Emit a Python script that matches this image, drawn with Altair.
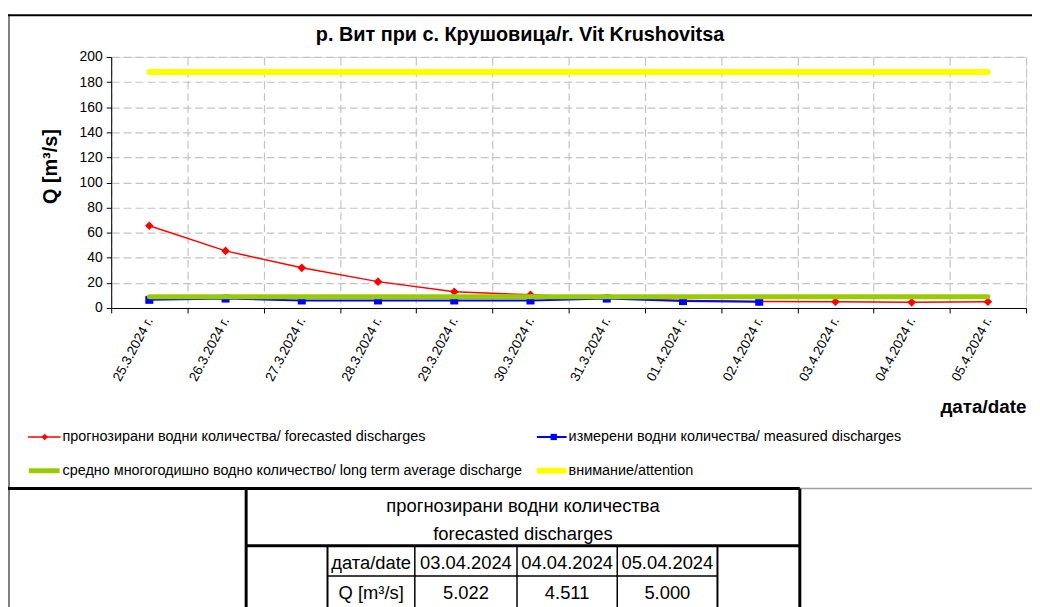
import altair as alt
import pandas as pd

# ---------------- data ----------------
dates = ["25.3.2024 г.", "26.3.2024 г.", "27.3.2024 г.", "28.3.2024 г.",
         "29.3.2024 г.", "30.3.2024 г.", "31.3.2024 г.", "01.4.2024 г.",
         "02.4.2024 г.", "03.4.2024 г.", "04.4.2024 г.", "05.4.2024 г."]
forecast = [65.5, 45.5, 32.0, 21.0, 13.0, 10.5, 8.0, 6.0, 5.2, 5.022, 4.511, 5.000]
measured_dates = dates[:9]
measured = [6.5, 7.5, 6.0, 6.0, 6.0, 6.0, 7.5, 5.5, 5.0]
long_term = [8.9, 8.9, 8.9, 8.9, 8.9, 8.9, 8.9, 8.9, 8.9, 8.9, 8.9, 8.9]
attention = [188, 188, 188, 188, 188, 188, 188, 188, 188, 188, 188, 188]
y_ticks = [0, 20, 40, 60, 80, 100, 120, 140, 160, 180, 200]

table_dates = ["03.04.2024", "04.04.2024", "05.04.2024"]
table_values = [5.022, 4.511, 5.000]

title_text = "р. Вит при с. Крушовица/r. Vit Krushovitsa"
legend_labels = [
    "прогнозирани  водни количества/ forecasted discharges",
    "измерени  водни количества/ measured discharges",
    "средно  многогодишно  водно количество/ long term average  discharge",
    "внимание/attention",
]

# ---------------- styling ----------------
ARIAL = "Liberation Sans, Arial, sans-serif"
W, H = 922, 253
RED, BLUE, GREEN, YELLOW = "#FF0000", "#0000FF", "#99CC00", "#FFFF00"
GRID = "#C4C4C4"

df_fc = pd.DataFrame({"date": dates, "value": forecast})
df_me = pd.DataFrame({"date": measured_dates, "value": measured})
df_lt = pd.DataFrame({"date": dates, "value": long_term})
df_at = pd.DataFrame({"date": dates, "value": attention})

x_axis = alt.Axis(
    title="дата/date", tickBand="extent", grid=True, gridColor=GRID,
    gridDash=[8, 4], gridWidth=1.2, domainColor="black", domainWidth=1,
    tickColor="black", tickSize=5, labelAngle=298, labelFont=ARIAL,
    labelFontSize=13.5, labelColor="black", labelPadding=5,
    titleFont=ARIAL, titleFontWeight="bold", titleFontSize=19,
    titleColor="black", titleX=922, titleY=99, titleAlign="right",
    titleBaseline="middle", titleAnchor="end",
)
y_axis = alt.Axis(
    values=y_ticks, title="Q [m³/s]", grid=True, gridColor=GRID,
    gridDash=[8, 4], gridWidth=1.2, domainColor="black", tickColor="black",
    tickSize=5, labelFont=ARIAL, labelFontSize=14, labelColor="black",
    labelPadding=4, titleFont=ARIAL, titleFontSize=20, titleFontWeight="bold",
    titleColor="black", titleX=-61, titleY=110, titleAngle=270,
    titleAlign="center", titleBaseline="middle",
)

x_enc = alt.X("date:N", scale=alt.Scale(type="band", domain=dates,
                                          paddingInner=0, paddingOuter=0),
              bandPosition=0.5, axis=x_axis)
y_enc = alt.Y("value:Q", scale=alt.Scale(domain=[0, 200], nice=False, zero=True),
              axis=y_axis)

red_line = alt.Chart(df_fc).mark_line(color=RED, strokeWidth=1.5).encode(x=x_enc, y=y_enc)
red_pts = alt.Chart(df_fc).mark_point(shape="diamond", filled=True, color=RED,
                                      size=75, opacity=1).encode(x=x_enc, y=y_enc)
blue_line = alt.Chart(df_me).mark_line(color=BLUE, strokeWidth=2).encode(x=x_enc, y=y_enc)
blue_pts = alt.Chart(df_me).mark_point(shape="square", filled=True, color=BLUE,
                                       size=65, opacity=1).encode(x=x_enc, y=y_enc)
green_line = alt.Chart(df_lt).mark_line(color=GREEN, strokeWidth=5,
                                        strokeCap="round").encode(x=x_enc, y=y_enc)
yellow_line = alt.Chart(df_at).mark_line(color=YELLOW, strokeWidth=6,
                                         strokeCap="round").encode(x=x_enc, y=y_enc)

one = pd.DataFrame({"k": [0]})


def rule(x1, x2, y1, y2, color="black", width=1.0):
    return alt.Chart(one).mark_rule(color=color, strokeWidth=width).encode(
        x=alt.value(x1), x2=alt.value(x2), y=alt.value(y1), y2=alt.value(y2))


def label(text, x, y, font=ARIAL, size=18.5, weight="normal", align="center"):
    return alt.Chart(one).mark_text(text=text, font=font, fontSize=size,
                                    fontWeight=weight, align=align,
                                    baseline="middle", color="black").encode(
        x=alt.value(x), y=alt.value(y))


# title
deco = [label(title_text, 412, -22, size=20, weight="bold")]

# legend
LS = 14.5
deco += [
    rule(-84, -51, 383, 383, RED, 1.5),
    alt.Chart(one).mark_point(shape="diamond", filled=True, color=RED, size=45,
                              opacity=1).encode(x=alt.value(-67), y=alt.value(383)),
    label(legend_labels[0], -49, 383, size=LS, align="left"),
    rule(429, 459, 383, 383, BLUE, 2),
    alt.Chart(one).mark_point(shape="square", filled=True, color=BLUE, size=40,
                              opacity=1).encode(x=alt.value(446), y=alt.value(383)),
    label(legend_labels[1], 461, 383, size=LS, align="left"),
    rule(-83, -52, 417, 417, GREEN, 5),
    label(legend_labels[2], -49, 417, size=LS, align="left"),
    rule(429, 459, 417, 417, YELLOW, 6),
    label(legend_labels[3], 461, 417, size=LS, align="left"),
]

# outer frame
deco += [
    rule(-103, -103, -43, 560, "#808080", 2),
    rule(-104, 930, -42, -42, "black", 2),
    rule(-104, 694, 435, 435, "black", 3),
    rule(694, 930, 435, 435, "#A0A0A0", 1.5),
]

# table grid
deco += [
    rule(136, 136, 435, 560, "black", 3),
    rule(694, 694, 435, 560, "black", 3),
    rule(136, 694, 492.5, 492.5, "black", 3),
    rule(218, 218, 492.5, 560, "black", 2),
    rule(611, 611, 492.5, 560, "black", 2),
    rule(306, 306, 492.5, 560, "black", 1.5),
    rule(409, 409, 492.5, 560, "black", 1.5),
    rule(510, 510, 492.5, 560, "black", 1.5),
    rule(218, 611, 523, 523, "black", 1.5),
]

# table texts
col_x = [357.5, 459.5, 560.5]
deco += [
    label("прогнозирани водни количества", 415, 453),
    label("forecasted discharges", 415, 481),
    label("дата/date", 262, 510),
    label("Q [m³/s]", 262, 540),
]
for cx, d, v in zip(col_x, table_dates, table_values):
    deco.append(label(d, cx, 510))
    deco.append(label(f"{v:.3f}", cx, 540))

chart = alt.layer(
    red_line, red_pts, blue_line, blue_pts, green_line, yellow_line, *deco
).properties(
    width=W, height=H,
    autosize=alt.AutoSizeParams(type="none"),
    padding={"left": 104, "top": 47, "right": 6, "bottom": 299},
).configure_view(strokeWidth=0).configure(background="white")

chart.save("out.html", embed_options={"renderer": "svg", "actions": False})
